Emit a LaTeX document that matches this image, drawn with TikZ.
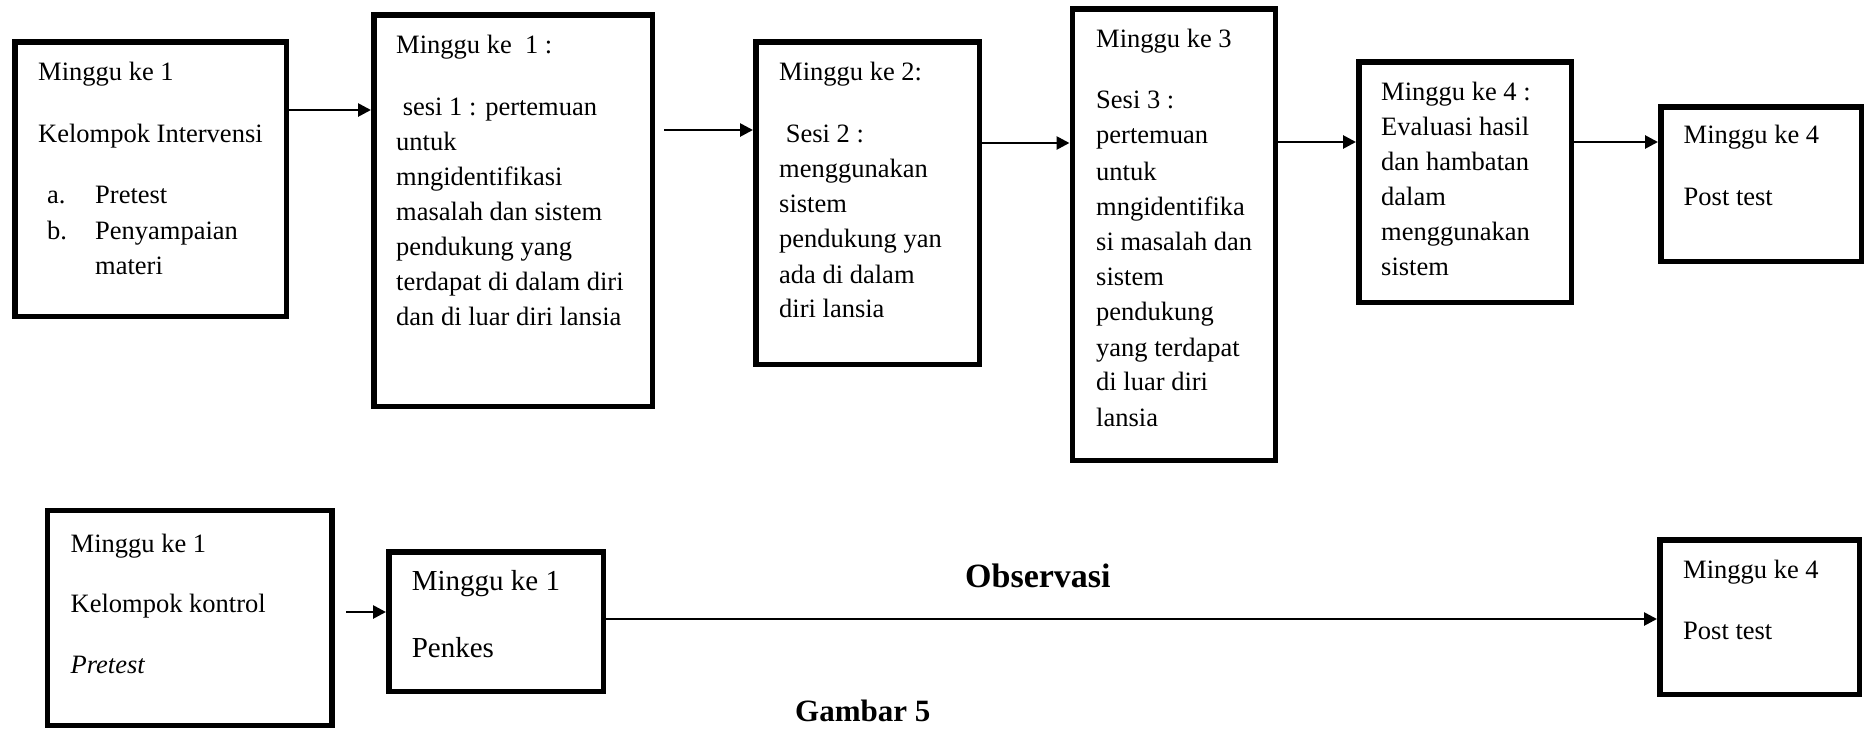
\documentclass[tikz,border=0pt]{standalone}
\usepackage{fontspec}
\setmainfont{Liberation Serif}
\usetikzlibrary{arrows.meta}
\tikzset{
  bx/.style={draw, rectangle, line width=5.5pt, inner sep=0pt},
  txt/.style={anchor=base west, inner sep=0pt, font=\fontsize{26.5}{30}\selectfont},
  bigtxt/.style={anchor=base west, inner sep=0pt, font=\fontsize{29}{33}\selectfont},
  ttl/.style={anchor=base west, inner sep=0pt, font=\fontsize{34}{38}\selectfont\bfseries},
  captxt/.style={anchor=base west, inner sep=0pt, font=\fontsize{31}{35}\selectfont\bfseries},
  arr/.style={line width=2.7pt, -{Triangle[length=13pt,width=13pt]}}
}
\newcommand\txtlines[4][txt]{%
  \foreach \myY/\myT [count=\myI] in {#4} {\node[#1, name=#2-\myI] at (#3,\myY) {\myT};}%
}
\begin{document}
\begin{tikzpicture}[x=1pt,y=-1pt]
\clip (0,0) rectangle (1869,729);
\fill[white] (0,0) rectangle (1869,729);
% boxes
\node[bx, minimum width=271.5pt, minimum height=274.5pt] (b1) at (150.5,179) {};
\node[bx, minimum width=278.5pt, minimum height=391.5pt] (b2) at (513,210.5) {};
\node[bx, minimum width=223.5pt, minimum height=322.5pt] (b3) at (867.5,203) {};
\node[bx, minimum width=203pt, minimum height=451.5pt] (b4) at (1173.75,234.5) {};
\node[bx, minimum width=212.5pt, minimum height=240.5pt] (b5) at (1465,182) {};
\node[bx, minimum width=200.5pt, minimum height=154.5pt] (b6) at (1761,184) {};
\node[bx, minimum width=284.5pt, minimum height=215pt] (b7) at (189.5,618) {};
\node[bx, minimum width=214.5pt, minimum height=139.5pt] (b8) at (496,621.5) {};
\node[bx, minimum width=199.5pt, minimum height=154.5pt] (b9) at (1759.5,617) {};
% texts
\txtlines{t1}{38}{80/Minggu ke 1, 142/Kelompok Intervensi}
\txtlines{t1a}{47}{203/a., 239/b.}
\txtlines{t1b}{95}{203/Pretest, 239/Penyampaian, 274/materi}
\txtlines{t2}{396}{53/Minggu ke~ 1 :, 115/~sesi 1 : pertemuan, 150/untuk, 185/mngidentifikasi, 220/masalah dan sistem, 255/pendukung yang, 290/terdapat di dalam diri, 325/dan di luar diri lansia}
\txtlines{t3}{779}{80/Minggu ke 2:, 142/~Sesi 2 :, 177/menggunakan, 212/sistem, 247/pendukung yan, 283/ada di dalam, 317/diri lansia}
\txtlines{t4}{1096}{47/Minggu ke 3, 108/Sesi 3 :, 143/pertemuan, 180/untuk, 215/mngidentifika, 250/si masalah dan, 285/sistem, 320/pendukung, 356/yang terdapat, 390/di luar diri, 426/lansia}
\txtlines{t5}{1381}{100/Minggu ke 4 :, 135/Evaluasi hasil, 170/dan hambatan, 205/dalam, 240/menggunakan, 275/sistem}
\txtlines{t6}{1683.5}{143/Minggu ke 4, 205/Post test}
\txtlines{t7}{70.5}{552/Minggu ke 1, 612/Kelompok kontrol, 673/\textit{Pretest}}
\txtlines[bigtxt]{t8}{411.6}{590/Minggu ke 1, 657/Penkes}
\txtlines{t9}{1683}{578/Minggu ke 4, 639/Post test}
\node[ttl] (obs) at (965,587.5) {Observasi};
\node[captxt] (gam) at (795,721) {Gambar 5};
% connectors
\coordinate (r1) at (0,110);
\coordinate (s2) at (664,130);
\coordinate (r3) at (0,143);
\coordinate (r4) at (0,142);
\coordinate (s6) at (346,612);
\coordinate (r7) at (0,619);
\draw[arr] (b1.east |- r1) -- (b2.west |- r1);
\draw[arr] (s2) -- (b3.west |- s2);
\draw[arr] (b3.east |- r3) -- (b4.west |- r3);
\draw[arr] (b4.east |- r4) -- (b5.west |- r4);
\draw[arr] (b5.east |- r4) -- (b6.west |- r4);
\draw[arr] (s6) -- (b8.west |- s6);
\draw[arr] (b8.east |- r7) -- (b9.west |- r7);
\end{tikzpicture}
\end{document}
